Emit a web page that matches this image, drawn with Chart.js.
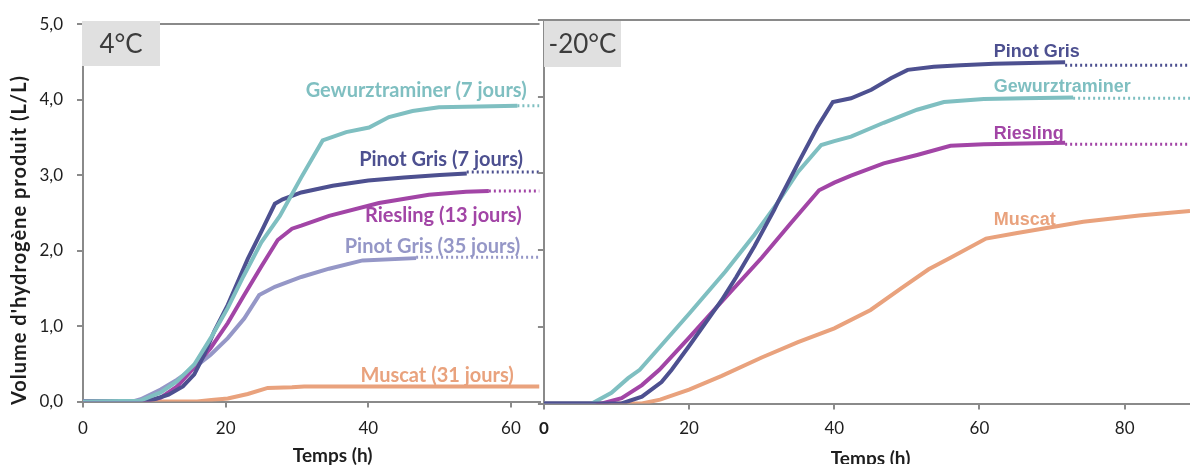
<!DOCTYPE html>
<html>
<head>
<meta charset="utf-8">
<script src="https://cdn.jsdelivr.net/npm/chart.js@4.4.1/dist/chart.umd.min.js"></script>
<style>
  html, body { margin: 0; padding: 0; background: #fff; }
  #wrap { position: relative; width: 1190px; height: 467px; overflow: hidden; }
  #left { position: absolute; left: 0; top: 0; }
  #right { position: absolute; left: 530px; top: 0; }
</style>
</head>
<body>
<div id="wrap">
  <canvas id="left" width="542" height="467" style="width:542px;height:467px"></canvas>
  <canvas id="right" width="660" height="464" style="width:660px;height:464px"></canvas>
</div>
<script>
// ---- 4 °C panel (time in h, volume in L/L) ----
const names4 = ['Gewurztraminer (7 jours)', 'Pinot Gris (7 jours)', 'Riesling (13 jours)', 'Pinot Gris (35 jours)', 'Muscat (31 jours)']
const t4Gewurz = [0, 8, 10.9, 13.2, 15.6, 17.9, 20.3, 22.5, 25, 27.6, 30.6, 33.6, 36.9, 40.1, 42.9, 46.2, 49.9, 55.5, 60.9]
const v4Gewurz = [0, 0.01, 0.12, 0.27, 0.49, 0.84, 1.24, 1.66, 2.11, 2.46, 2.97, 3.46, 3.57, 3.63, 3.77, 3.85, 3.90, 3.91, 3.92]
const t4Pinot7 = [0, 7.6, 10, 12, 14, 15.6, 17, 18.4, 20.3, 23.1, 25, 26.9, 28, 30.6, 35, 40, 45, 50, 53.8]
const v4Pinot7 = [0, 0, 0.03, 0.09, 0.2, 0.36, 0.62, 0.93, 1.28, 1.89, 2.25, 2.62, 2.68, 2.77, 2.86, 2.93, 2.97, 3.0, 3.02]
const t4Riesling = [0, 8.5, 10.9, 13.2, 15.6, 17.9, 20.3, 22.6, 25, 27.3, 29.3, 30.6, 34.5, 41.5, 48.5, 53.7, 56.9]
const v4Riesling = [0, 0, 0.05, 0.2, 0.45, 0.71, 1.04, 1.41, 1.79, 2.14, 2.29, 2.33, 2.46, 2.63, 2.74, 2.78, 2.79]
const t4Pinot35 = [0, 7, 8.1, 10.9, 13.2, 15.6, 17.9, 20.3, 22.6, 24.7, 26.9, 30.6, 34.5, 39.2, 46.7]
const v4Pinot35 = [0, 0, 0.03, 0.16, 0.29, 0.45, 0.62, 0.84, 1.1, 1.41, 1.52, 1.65, 1.76, 1.87, 1.90]
const t4Muscat = [0, 16, 18, 20.3, 23.1, 25.9, 29.3, 31, 64]
const v4Muscat = [0, 0, 0.02, 0.04, 0.1, 0.18, 0.19, 0.2, 0.2]
const dot4 = [3.92, 3.04, 2.79, 1.91, null]   // dotted plateau after the last measure
const xTicks4 = [0, 20, 40, 60]

// ---- -20 °C panel ----
const names20 = ['Pinot Gris', 'Gewurztraminer', 'Riesling', 'Muscat']
const t20Pinot = [0, 10.7, 13.5, 16.2, 17.6, 20, 23, 24.5, 26.5, 29, 31.7, 32.2, 35, 37.7, 39.8, 42.3, 45.1, 47.8, 50.1, 53.7, 57.4, 62, 71.8]
const v20Pinot = [0, 0, 0.09, 0.28, 0.44, 0.75, 1.15, 1.35, 1.65, 2.05, 2.52, 2.62, 3.13, 3.61, 3.93, 3.98, 4.09, 4.24, 4.35, 4.39, 4.41, 4.43, 4.45]
const t20Gewurz = [0, 6.6, 9.3, 11.6, 13.2, 16, 20, 25, 29, 32.2, 35, 38.2, 40, 42.3, 46.8, 51.4, 55.1, 60.6, 66.1, 72.9]
const v20Gewurz = [0, 0, 0.14, 0.33, 0.44, 0.74, 1.17, 1.72, 2.2, 2.62, 3.02, 3.37, 3.42, 3.48, 3.66, 3.83, 3.93, 3.97, 3.98, 3.99]
const t20Riesling = [0, 8, 10.7, 13.5, 15.9, 20, 24.7, 30, 34, 37.9, 40, 42.3, 46.8, 51.4, 56, 60.6, 71.8]
const v20Riesling = [0, 0, 0.07, 0.24, 0.44, 0.86, 1.35, 1.9, 2.35, 2.78, 2.88, 2.97, 3.13, 3.24, 3.36, 3.38, 3.40]
const t20Muscat = [0, 13.5, 16, 20, 24.5, 30, 35, 40, 45, 49.2, 53, 56, 60.9, 65, 74.3, 82, 89]
const v20Muscat = [0, 0, 0.05, 0.18, 0.36, 0.6, 0.8, 0.98, 1.22, 1.5, 1.75, 1.9, 2.15, 2.22, 2.37, 2.45, 2.51]
const dot20 = [4.41, 3.98, 3.38, null]
const xTicks20 = [0, 20, 40, 60, 80]

const yTicks = [0, 1, 2, 3, 4, 5]

// ---- styles ----
const AXIS = '#8a8a8a'
const TEXT = '#1e1e1e'
const colors4 = ['#7fbfc1', '#4d5090', '#a245a6', '#9597c7', '#e9a27d']
const colors20 = ['#4d5090', '#7fbfc1', '#a245a6', '#e9a27d']

const toPts = (ts, vs) => ts.map((t, i) => ({ x: t, y: vs[i] }))
const comma = v => v.toFixed(1).replace('.', ',')

function buildSets(series, colors, dots, xMax) {
   const sets = []
   series.forEach(([ts, vs], i) => {
      sets.push({ data: toPts(ts, vs), borderColor: colors[i], borderWidth: 4, pointRadius: 0, tension: 0, order: 1 })
      if (dots[i] != null) {
         const last = ts[ts.length - 1]
         sets.push({ data: [{ x: last, y: dots[i] }, { x: xMax, y: dots[i] }], borderColor: colors[i], borderWidth: 3,
            borderDash: [2, 3], pointRadius: 0, order: 2 })
      }
   })
   return sets
}

// labels, panel tag and axis titles drawn on top of the plot
const notes = {
   id: 'notes',
   afterDatasetsDraw(chart, args, o) {
      const { ctx } = chart
      const x = chart.scales.x, y = chart.scales.y
      ctx.save()
      ctx.fillStyle = '#e0e0e0'
      ctx.fillRect(o.tag.x0, o.tag.y0, o.tag.x1 - o.tag.x0, o.tag.y1 - o.tag.y0)
      ctx.fillStyle = '#3c3c3c'
      ctx.font = o.tag.font
      ctx.textAlign = 'center'
      ctx.textBaseline = 'middle'
      ctx.fillText(o.tag.text, (o.tag.x0 + o.tag.x1) / 2, (o.tag.y0 + o.tag.y1) / 2 + 1)

      ctx.font = o.font
      o.labels.forEach((l, i) => {
         ctx.fillStyle = o.colors[i]
         ctx.textAlign = l.align
         ctx.fillText(o.names[i], x.getPixelForValue(l.t), y.getPixelForValue(l.v))
      })

      ctx.fillStyle = TEXT
      ctx.font = 'bold 19px Lato'
      ctx.textAlign = 'center'
      ctx.fillText('Temps (h)', x.getPixelForValue(o.xTitle.t), o.xTitle.y)
      if (o.yTitle) {
         ctx.font = 'bold 20px Lato'
         ctx.letterSpacing = '1px'
         ctx.translate(o.yTitle.x, o.yTitle.y)
         ctx.rotate(-Math.PI / 2)
         ctx.fillText("Volume d'hydrogène produit (L/L)", 0, 0)
      }
      ctx.restore()
   }
}

function makeChart(el, cfg) {
   return new Chart(el, {
      type: 'line',
      data: { datasets: cfg.datasets },
      plugins: [notes],
      options: {
         responsive: false,
         animation: false,
         events: [],
         layout: { padding: cfg.padding },
         plugins: { legend: { display: false }, tooltip: { enabled: false }, notes: cfg.notes },
         scales: {
            x: {
               type: 'linear', min: 0, max: cfg.xMax,
               afterFit: s => { s.height = cfg.xHeight },
               afterBuildTicks: s => { s.ticks = cfg.xTicks.map(v => ({ value: v })) },
               grid: { color: 'rgba(0,0,0,0)', tickColor: AXIS, tickLength: 6, lineWidth: 2 },
               border: { color: AXIS, width: 2 },
               ticks: {
                  padding: cfg.xPad, color: TEXT,
                  font: c => ({ family: 'Lato', size: 17, weight: (cfg.boldZero && c.tick && c.tick.value === 0) ? 'bold' : 'normal' })
               }
            },
            y: {
               type: 'linear', min: 0, max: 5,
               afterFit: s => { s.width = cfg.yWidth },
               afterBuildTicks: s => { s.ticks = yTicks.map(v => ({ value: v })) },
               grid: { color: c => (c.tick && c.tick.value === 5) ? AXIS : 'rgba(0,0,0,0)', tickColor: AXIS, tickLength: 6, lineWidth: 2 },
               border: { color: AXIS, width: 2 },
               ticks: { display: cfg.yLabels, padding: 14, color: TEXT, font: { family: 'Lato', size: 17 }, callback: v => comma(v) }
            }
         }
      }
   })
}

makeChart(document.getElementById('left'), {
   datasets: buildSets([[t4Gewurz, v4Gewurz], [t4Pinot7, v4Pinot7], [t4Riesling, v4Riesling], [t4Pinot35, v4Pinot35], [t4Muscat, v4Muscat]], colors4, dot4, 64),
   xMax: 64, xTicks: xTicks4, xHeight: 65.5, xPad: 11, yWidth: 83, yLabels: true, boldZero: false,
   padding: { left: 0, top: 20, right: 2.5, bottom: 0 },
   notes: {
      names: names4, colors: colors4, font: 'bold 20px Lato',
      labels: [{ t: 62.2, v: 4.12, align: 'right' }, { t: 61.7, v: 3.2, align: 'right' }, { t: 61.5, v: 2.47, align: 'right' },
               { t: 61.3, v: 2.05, align: 'right' }, { t: 60.4, v: 0.35, align: 'right' }],
      tag: { text: '4°C', x0: 82, y0: 21, x1: 160, y1: 66, font: '26px Lato' },
      xTitle: { t: 35, y: 456 },
      yTitle: { x: 20, y: 240 }
   }
})

makeChart(document.getElementById('right'), {
   datasets: buildSets([[t20Pinot, v20Pinot], [t20Gewurz, v20Gewurz], [t20Riesling, v20Riesling], [t20Muscat, v20Muscat]], colors20, dot20, 89),
   xMax: 89, xTicks: xTicks20, xHeight: 60.5, xPad: 9, yWidth: 12, yLabels: false, boldZero: true,
   padding: { left: 0, top: 20, right: 0, bottom: 0 },
   notes: {
      names: names20, colors: colors20, font: 'bold 18px "Liberation Sans"',
      labels: [{ t: 61.95, v: 4.58, align: 'left' }, { t: 61.95, v: 4.13, align: 'left' }, { t: 61.95, v: 3.51, align: 'left' },
               { t: 61.95, v: 2.39, align: 'left' }],
      tag: { text: '-20°C', x0: 14, y0: 21, x1: 91, y1: 67, font: '26px Lato' },
      xTitle: { t: 45, y: 459 }
   }
})
</script>
</body>
</html>
